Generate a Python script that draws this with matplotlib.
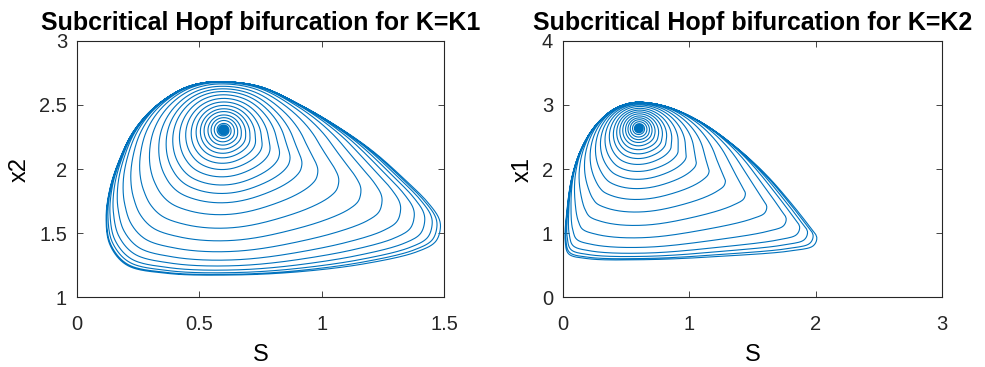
import matplotlib
matplotlib.use("Agg")
import matplotlib.pyplot as plt
import numpy as np

plt.rcParams['font.family'] = ['Liberation Sans', 'DejaVu Sans']

# --- K = K1 : outer limit cycle (S, x2), clockwise from top ---
k1_center = (0.599, 2.305)
k1_cycle_S = [0.599, 0.749, 0.913, 1.076, 1.212, 1.349, 1.431, 1.479, 1.485, 1.465, 1.39, 1.185,
              0.913, 0.64, 0.368, 0.204, 0.136, 0.12, 0.136, 0.177, 0.231, 0.313, 0.422, 0.504]
k1_cycle_x2 = [2.682, 2.643, 2.50, 2.318, 2.135, 1.901, 1.745, 1.615, 1.537, 1.432, 1.354, 1.263,
               1.198, 1.172, 1.185, 1.25, 1.406, 1.615, 1.849, 2.083, 2.291, 2.474, 2.617, 2.669]
# size of each turn of the spiral (distance below the fixed point / limit cycle's)
k1_loops = [0.0, 0.003, 0.006, 0.009, 0.012, 0.016, 0.02, 0.025, 0.03, 0.036, 0.047, 0.07,
            0.093, 0.116, 0.147, 0.174, 0.209, 0.249, 0.295, 0.349, 0.407, 0.465, 0.535,
            0.628, 0.721, 0.802, 0.872, 0.919, 0.953, 0.977, 0.99, 1.0, 1.0]

# --- K = K2 : outer limit cycle (S, x1), clockwise from top ---
k2_center = (0.603, 2.636)
k2_cycle_S = [0.598, 0.822, 1.085, 1.349, 1.613, 1.823, 1.968, 2.021, 1.994, 1.823, 1.296,
              0.637, 0.19, 0.045, 0.018, 0.032, 0.071, 0.137, 0.242, 0.374, 0.479]
k2_cycle_x1 = [3.042, 2.973, 2.74, 2.375, 1.906, 1.437, 1.073, 0.917, 0.786, 0.708, 0.63,
               0.578, 0.594, 0.667, 0.864, 1.333, 1.855, 2.27, 2.636, 2.895, 3.0]
k2_loops = [0.0, 0.003, 0.006, 0.009, 0.012, 0.016, 0.02, 0.025, 0.03, 0.038, 0.056, 0.076,
            0.096, 0.119, 0.147, 0.177, 0.21, 0.248, 0.299, 0.354, 0.418, 0.494, 0.582,
            0.684, 0.785, 0.873, 0.932, 0.962, 0.982, 0.995, 1.0]


def closed_curve(P, m=40):
    # centripetal Catmull-Rom through the read points, closed
    n = len(P)
    out = []
    for i in range(n):
        p0, p1, p2, p3 = P[(i - 1) % n], P[i], P[(i + 1) % n], P[(i + 2) % n]
        t0 = 0.0
        t1 = t0 + np.linalg.norm(p1 - p0) ** 0.5
        t2 = t1 + np.linalg.norm(p2 - p1) ** 0.5
        t3 = t2 + np.linalg.norm(p3 - p2) ** 0.5
        t = np.linspace(t1, t2, m, endpoint=False)[:, None]
        a1 = (t1 - t) / (t1 - t0) * p0 + (t - t0) / (t1 - t0) * p1
        a2 = (t2 - t) / (t2 - t1) * p1 + (t - t1) / (t2 - t1) * p2
        a3 = (t3 - t) / (t3 - t2) * p2 + (t - t2) / (t3 - t2) * p3
        b1 = (t2 - t) / (t2 - t0) * a1 + (t - t0) / (t2 - t0) * a2
        b2 = (t3 - t) / (t3 - t1) * a2 + (t - t1) / (t3 - t1) * a3
        out.append((t2 - t) / (t2 - t1) * b1 + (t - t1) / (t2 - t1) * b2)
    return np.vstack(out)


def circ_smooth(y, win):
    pad = np.r_[y[-win:], y, y[:win]]
    return np.convolve(pad, np.ones(win) / win, mode='same')[win:-win]


def spiral(ax, center, cyc_x, cyc_y, loops):
    # work in screen-like units so the small turns come out round
    bb = ax.get_position()
    fw, fh = ax.figure.get_size_inches()
    x0, x1 = ax.get_xlim()
    y0, y1 = ax.get_ylim()
    sc = np.array([bb.width * fw / (x1 - x0), bb.height * fh / (y1 - y0)])
    c = np.array(center) * sc
    C = closed_curve(np.column_stack([cyc_x, cyc_y]) * sc)
    V = C - c
    phi = np.arctan2(V[:, 1], V[:, 0])
    R = np.hypot(V[:, 0], V[:, 1])
    order = np.argsort(phi)

    # limit cycle radius as a function of angle round the fixed point
    npt = 720
    grid = np.linspace(-np.pi, np.pi, npt, endpoint=False)
    logR = np.log(np.interp(grid, phi[order], R[order], period=2 * np.pi))
    logR_soft = circ_smooth(circ_smooth(logR, 61), 61)
    r_ref = np.exp(np.interp(-np.pi / 2, grid, logR))

    n = len(loops)
    idx = np.arange((n - 1) * npt + 1)
    s = np.clip(np.interp(idx / npt, np.arange(n), loops), 0, 1)
    th = np.pi / 2 - 2 * np.pi * idx / npt
    k = np.round((np.mod(th + np.pi, 2 * np.pi)) / (2 * np.pi) * npt).astype(int) % npt
    # small turns follow a rounded outline, the last ones the real cycle
    Rs = np.exp(s * logR[k] + (1 - s) * logR_soft[k])
    q = r_ref / Rs
    # where the cycle lies closer than below the centre the turns bunch up,
    # where it lies farther they stay spread out
    a = 1 - (1 - s) ** q
    b = q * s + (1 - q) * s ** 2
    w = np.minimum(q, 1) ** 4
    d = Rs * (w * a + (1 - w) * b)
    ang = grid[k]
    pts = np.column_stack([c[0] + d * np.cos(ang), c[1] + d * np.sin(ang)]) / sc
    return pts[:, 0], pts[:, 1]


fig = plt.figure(figsize=(9.85, 3.67), dpi=100)
ax1 = fig.add_axes([0.0779, 0.1907, 0.3729, 0.6976])
ax2 = fig.add_axes([0.5713, 0.1907, 0.3853, 0.6976])

ax1.set_xlim(0, 1.5)
ax1.set_ylim(1, 3)
ax2.set_xlim(0, 3)
ax2.set_ylim(0, 4)

col = '#0072BD'
x, y = spiral(ax1, k1_center, k1_cycle_S, k1_cycle_x2, k1_loops)
ax1.plot(x, y, color=col, lw=0.8)
x, y = spiral(ax2, k2_center, k2_cycle_S, k2_cycle_x1, k2_loops)
ax2.plot(x, y, color=col, lw=0.8)

ax1.set_xticks([0, 0.5, 1, 1.5])
ax1.set_xticklabels(['0', '0.5', '1', '1.5'])
ax1.set_yticks([1, 1.5, 2, 2.5, 3])
ax1.set_yticklabels(['1', '1.5', '2', '2.5', '3'])
ax1.set_ylabel('x2', fontsize=17, labelpad=6)
ax1.set_title('Subcritical Hopf bifurcation for K=K1', fontweight='bold', fontsize=18, pad=8)

ax2.set_xticks([0, 1, 2, 3])
ax2.set_yticks([0, 1, 2, 3, 4])
ax2.set_ylabel('x1', fontsize=17, labelpad=6)
ax2.set_title('Subcritical Hopf bifurcation for K=K2', fontweight='bold', fontsize=18, pad=8)

for ax in (ax1, ax2):
    ax.set_xlabel('S', fontsize=17, labelpad=7)
    ax.tick_params(direction='in', length=4, width=0.6, top=True, right=True,
                   labelsize=14.5, colors='#262626')
    ax.tick_params(axis='x', pad=13)
    ax.tick_params(axis='y', pad=7)
    for s in ax.spines.values():
        s.set_color('#262626')
        s.set_linewidth(0.8)

fig.savefig('out.png', dpi=100)
